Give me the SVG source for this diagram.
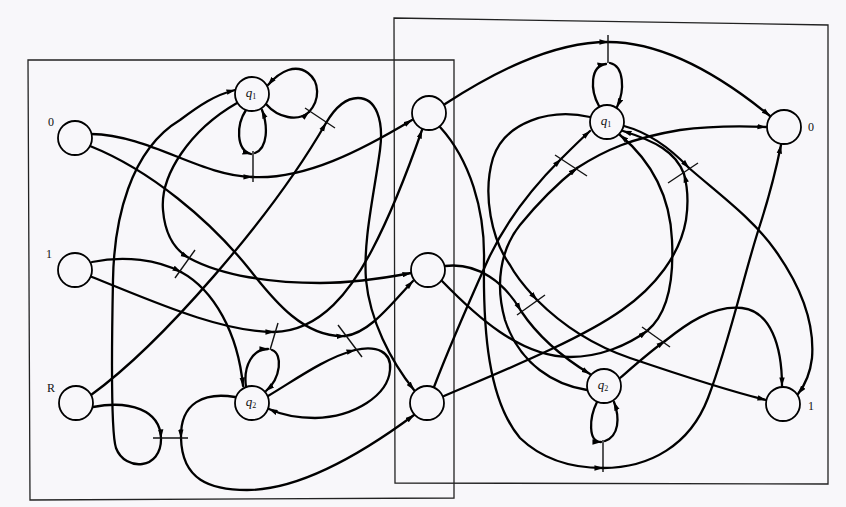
<svg xmlns="http://www.w3.org/2000/svg" width="846" height="507" viewBox="0 0 846 507">
<defs>
<marker id="ah" viewBox="0 0 10 6" refX="9.5" refY="3" markerWidth="9" markerHeight="6" markerUnits="userSpaceOnUse" orient="auto"><path d="M0,0 L10,3 L0,6 z" fill="#000"/></marker>
<style>
.e{fill:none;stroke:#000;stroke-width:2.3;stroke-linecap:round}
.a{marker-end:url(#ah)}
.bar{fill:none;stroke:#111;stroke-width:1.4}
.box{fill:none;stroke:#222;stroke-width:1.3}
.n circle{fill:#f8f7fa;stroke:#000;stroke-width:1.8}
.q{font-family:"Liberation Serif",serif;font-style:italic;font-size:13px;fill:#111}
.lbl{font-family:"Liberation Serif",serif;font-size:12px;fill:#111}
</style>
</defs>
<rect width="846" height="507" fill="#f8f7fa"/>
<g id="boxes">
<path class="box" d="M28,60 L454,60 L454,498 L30,500 Z"/>
<path class="box" d="M394,18 L828,25 L828,484 L395,483 Z"/>
</g>
<g id="connectors">
<g id="e-0-tm"><path class="e a" d="M91,134 C150,135 200,176 252,177"/><path class="e a" d="M252,177 C305,180 362,150 412,120"/></g>
<g id="e-0-mm"><path class="e a" d="M90,146 C150,170 210,220 250,270 C275,302 305,338 345,336"/><path class="e a" d="M345,336 C370,333 392,303 413,281"/></g>
<g id="e-1-q2"><path class="e a" d="M92,262 C125,255 158,260 181,272"/><path class="e a" d="M181,272 C214,290 238,333 243,386"/></g>
<g id="e-1-tm"><path class="e a" d="M92,277 C150,300 220,332 274,332"/><path class="e a" d="M274,332 C322,331 352,288 372,250 C392,212 408,170 422,130"/></g>
<g id="e-q1-mm"><path class="e a" d="M237,103 C190,130 160,175 163,210 C165,235 175,250 189,258"/><path class="e a" d="M189,258 C222,276 272,283 320,283 C355,283 385,278 411,273"/></g>
<g id="e-r-bm"><path class="e a" d="M91,395 C160,345 270,220 326,123"/><path class="e a" d="M326,123 C336,106 346,98 358,98 C376,98 384,120 380,150 C374,195 363,240 366,280 C370,320 390,360 414,390"/></g>
<g id="e-q1-loop-r"><path class="e a" d="M266,104 C278,118 298,122 309,112"/><path class="e a" d="M309,112 C320,100 320,82 308,73 C296,64 281,70 268,85"/><path class="bar" d="M305,108 L335,128"/></g>
<g id="e-q1-loop-b"><path class="e a" d="M246,110 C236,125 236,150 251,154"/><path class="e a" d="M255,153 C268,148 268,126 262,110"/><path class="bar" d="M253,151 L253,182"/></g>
<g id="e-q2-loop-t"><path class="e a" d="M246,387 C243,365 253,349 268,349"/><path class="e a" d="M272,350 C283,354 281,378 266,391"/><path class="bar" d="M270,350 L278,323"/></g>
<g id="e-q2-loop-r"><path class="e a" d="M268,396 C295,380 325,358 355,350"/><path class="e a" d="M355,350 C377,345 392,352 390,370 C388,395 355,417 315,418 C295,418 280,414 269,409"/><path class="bar" d="M338,325 L362,357"/></g>
<g id="e-bar1"><path class="e a" d="M93,407 C130,400 160,410 161,438"/><path class="e a" d="M235,397 C205,392 180,402 181,438"/><path class="e a" d="M161,438 C162,470 125,472 116,448 C110,430 112,330 113,280 C114,220 130,150 180,120 C200,105 215,95 235,90"/><path class="e a" d="M181,438 C182,480 210,490 247,490 C300,490 360,455 414,415"/><path class="bar" d="M153,438 L188,438"/></g>
<g id="e-bar2"><path class="bar" d="M175,278 L195,250"/></g>
<g id="e-tm-o0"><path class="e a" d="M445,104 C490,75 550,42 608,42"/><path class="e a" d="M608,42 C668,42 726,80 770,116"/><path class="bar" d="M608,35 L608,63"/></g>
<g id="e-q1r-loop"><path class="e a" d="M599,106 C590,90 590,66 606,64"/><path class="e a" d="M610,63 C624,66 625,90 617,107"/></g>
<g id="e-q2r-loop"><path class="e a" d="M597,402 C589,418 588,442 601,442"/><path class="e a" d="M605,441 C619,436 620,418 614,402"/><path class="bar" d="M603,440 L603,472"/></g>
<g id="e-tm-o0-low"><path class="e a" d="M440,127 C470,160 485,210 484,260 C483,330 488,400 520,438 C545,462 575,468 603,468"/><path class="e a" d="M603,468 C650,468 690,445 708,398 C730,340 745,270 760,225 C768,200 776,170 781,145"/></g>
<g id="e-q1r-o1"><path class="e a" d="M590,117 C550,108 505,122 493,158 C482,195 492,240 510,265 C518,280 528,290 537,300"/><path class="e a" d="M537,300 C562,325 592,345 630,358 C680,375 725,390 766,400"/></g>
<g id="e-mm-q2r"><path class="e a" d="M445,266 C478,262 505,283 521,311"/><path class="e a" d="M521,311 C537,335 562,357 590,374"/><path class="bar" d="M517,315 L545,295"/></g>
<g id="e-mm-q1r"><path class="e a" d="M442,281 C475,315 520,357 570,357 C600,357 628,345 647,331"/><path class="e a" d="M647,331 C668,314 674,280 672,240 C670,195 650,160 620,135"/></g>
<g id="e-bm-q1r"><path class="e a" d="M444,396 C500,372 580,340 622,310 C655,287 680,255 686,220 C689,200 687,185 684,174"/><path class="e a" d="M684,174 C676,152 655,141 623,131"/></g>
<g id="e-q1r-o1b"><path class="e a" d="M624,126 C650,133 672,150 689,168"/><path class="e a" d="M689,168 C720,195 752,218 775,250 C800,285 815,320 812,358 C810,375 805,385 798,394"/><path class="bar" d="M668,183 L698,163"/></g>
<g id="e-q2r-o1"><path class="e a" d="M620,378 C635,365 652,350 665,341"/><path class="e a" d="M665,341 C685,325 712,305 742,308 C770,311 782,345 782,386"/><path class="bar" d="M642,327 L670,347"/></g>
<g id="e-bm-q1r-b"><path class="e a" d="M434,387 C450,345 470,300 487,262 C505,222 535,185 561,159"/><path class="e a" d="M561,159 C570,150 580,140 590,131"/></g>
<g id="e-q2r-o0"><path class="e a" d="M587,390 C555,385 520,365 505,320 C495,285 500,250 520,225 C538,203 558,183 577,168"/><path class="e a" d="M577,168 C605,150 632,138 680,130 C710,126 740,126 766,127"/><path class="bar" d="M555,155 L587,176"/></g>
</g>
<g id="in0" class="n"><circle cx="75" cy="138" r="17"/><text class="lbl" x="51" y="126" text-anchor="middle">0</text></g>
<g id="in1" class="n"><circle cx="75" cy="270" r="17"/><text class="lbl" x="49" y="258" text-anchor="middle">1</text></g>
<g id="inR" class="n"><circle cx="76" cy="403" r="17"/><text class="lbl" x="51" y="392" text-anchor="middle">R</text></g>
<g id="q1L" class="n"><circle cx="252" cy="94" r="17"/><text class="q" x="251" y="97" text-anchor="middle">q<tspan font-size="8" font-style="normal" dy="2">1</tspan></text></g>
<g id="q2L" class="n"><circle cx="252" cy="403" r="17"/><text class="q" x="251" y="406" text-anchor="middle">q<tspan font-size="8" font-style="normal" dy="2">2</tspan></text></g>
<g id="tm" class="n"><circle cx="429" cy="113" r="17"/></g>
<g id="mm" class="n"><circle cx="428" cy="270" r="17"/></g>
<g id="bm" class="n"><circle cx="427" cy="403" r="17"/></g>
<g id="q1R" class="n"><circle cx="607" cy="122" r="17"/><text class="q" x="606" y="125" text-anchor="middle">q<tspan font-size="8" font-style="normal" dy="2">1</tspan></text></g>
<g id="q2R" class="n"><circle cx="604" cy="386" r="17"/><text class="q" x="603" y="389" text-anchor="middle">q<tspan font-size="8" font-style="normal" dy="2">2</tspan></text></g>
<g id="out0" class="n"><circle cx="784" cy="127" r="17"/><text class="lbl" x="811" y="131" text-anchor="middle">0</text></g>
<g id="out1" class="n"><circle cx="783" cy="404" r="17"/><text class="lbl" x="811" y="410" text-anchor="middle">1</text></g>
</svg>
